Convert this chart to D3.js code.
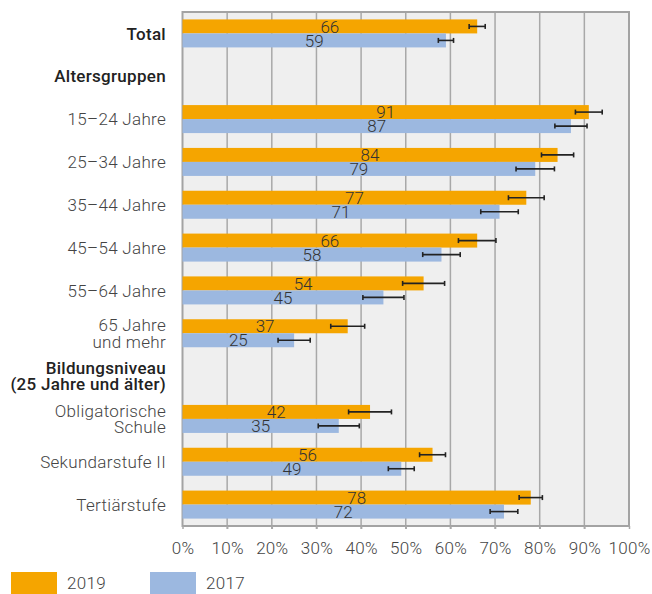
<!DOCTYPE html>
<html>
<head>
<meta charset="utf-8">
<script src="https://cdn.jsdelivr.net/npm/d3@7"></script>
<style>
  body { margin: 0; background: #fff; }
  text { font-family: Roboto, "Noto Sans", sans-serif; }
</style>
</head>
<body>
<svg id="chart" width="652" height="594"></svg>
<script>
"use strict";

// categories (empty values = group headers)
var categories = ["Total", "Altersgruppen", "15–24 Jahre", "25–34 Jahre", "35–44 Jahre", "45–54 Jahre",
  "55–64 Jahre", "65 Jahre|und mehr", "Bildungsniveau|(25 Jahre und älter)", "Obligatorische|Schule",
  "Sekundarstufe II", "Tertiärstufe"]
var headers = ["Total", "Altersgruppen", "Bildungsniveau|(25 Jahre und älter)"]

var values2019 = [66, null, 91, 84, 77, 66, 54, 37, null, 42, 56, 78]
var values2017 = [59, null, 87, 79, 71, 58, 45, 25, null, 35, 49, 72]
var err2019 = [1.8, null, 3.0, 3.6, 4.0, 4.2, 4.7, 3.8, null, 4.8, 2.9, 2.6]
var err2017 = [1.7, null, 3.6, 4.3, 4.2, 4.2, 4.6, 3.6, null, 4.6, 2.9, 3.1]

var xTicks = [0, 10, 20, 30, 40, 50, 60, 70, 80, 90, 100]
var seriesNames = ["2019", "2017"]
var colors = { "2019": "#f5a500", "2017": "#9cb8e0" }

var svg = d3.select("#chart")
var plotLeft = 182.5, plotRight = 629, plotTop = 12, plotBottom = 526
var barH = 14
var fontSize = "17px", spacing = "0.3px"

var x = d3.scaleLinear().domain([0, 100]).range([plotLeft, plotRight])
var y = d3.scaleBand().domain(categories).range([plotTop, plotBottom]).padding(0)

// fond du graphique
svg.append("rect")
  .attr("x", plotLeft).attr("y", plotTop)
  .attr("width", plotRight - plotLeft).attr("height", plotBottom - plotTop)
  .attr("fill", "#efefef")

// gridlines
svg.append("g")
  .selectAll("line")
  .data(xTicks.slice(1, -1))
  .enter()
  .append("line")
    .attr("x1", function(d) { return x(d) }).attr("x2", function(d) { return x(d) })
    .attr("y1", plotTop).attr("y2", plotBottom + 3)
    .attr("stroke", "#a8a8a8").attr("stroke-width", 1.5)

// border
svg.append("rect")
  .attr("x", plotLeft).attr("y", plotTop)
  .attr("width", plotRight - plotLeft).attr("height", plotBottom - plotTop)
  .attr("fill", "none").attr("stroke", "#a3a3a3").attr("stroke-width", 2)

// x axis
var xAxis = d3.axisBottom(x)
  .tickValues(xTicks)
  .tickSize(3)
  .tickFormat(function(d) { return d + "%" })
var ax = svg.append("g").attr("transform", "translate(0," + plotBottom + ")").call(xAxis)
ax.select(".domain").remove()
ax.selectAll(".tick line").attr("stroke", "#a8a8a8").attr("stroke-width", 1.5)
ax.selectAll(".tick text")
  .attr("y", 28)
  .attr("dy", 0)
  .attr("fill", "#444")
  .style("font-size", fontSize)
  .style("letter-spacing", spacing)
  .style("font-weight", 300)
  .style("font-family", "Roboto, sans-serif")

// bars
var rows = categories.map(function(c, i) {
  return { cat: c, v2019: values2019[i], v2017: values2017[i], e2019: err2019[i], e2017: err2017[i] }
}).filter(function(d) { return d.v2019 !== null })

seriesNames.forEach(function(s, si) {
  var g = svg.append("g")
  var sel = g.selectAll("g").data(rows).enter().append("g")
    .attr("transform", function(d) {
      var yy = y(d.cat) + y.bandwidth() / 2 - barH + si * barH
      return "translate(0," + yy + ")"
    })
  sel.append("rect")
    .attr("x", x(0))
    .attr("width", function(d) { return x(d["v" + s]) - x(0) })
    .attr("height", barH)
    .attr("fill", colors[s])
  sel.append("text")
    .attr("x", function(d) { return (x(0) + x(d["v" + s])) / 2 })
    .attr("y", barH / 2)
    .attr("dy", "0.36em")
    .attr("text-anchor", "middle")
    .attr("fill", "#333")
    .style("font-size", fontSize)
    .style("font-weight", 300)
    .text(function(d) { return d["v" + s] })
  // error bars
  var eb = sel.append("g").attr("stroke", "#222").attr("stroke-width", 1.6)
  eb.append("line")
    .attr("x1", function(d) { return x(d["v" + s] - d["e" + s]) })
    .attr("x2", function(d) { return x(d["v" + s] + d["e" + s]) })
    .attr("y1", barH / 2).attr("y2", barH / 2)
  eb.append("line")
    .attr("x1", function(d) { return x(d["v" + s] - d["e" + s]) })
    .attr("x2", function(d) { return x(d["v" + s] - d["e" + s]) })
    .attr("y1", barH / 2 - 2.5).attr("y2", barH / 2 + 2.5)
  eb.append("line")
    .attr("x1", function(d) { return x(d["v" + s] + d["e" + s]) })
    .attr("x2", function(d) { return x(d["v" + s] + d["e" + s]) })
    .attr("y1", barH / 2 - 2.5).attr("y2", barH / 2 + 2.5)
})

// category labels
var labels = svg.append("g")
  .selectAll("text")
  .data(categories)
  .enter()
  .append("text")
    .attr("text-anchor", "end")
    .attr("x", 166)
    .attr("fill", function(d) { return headers.indexOf(d) >= 0 ? "#222" : "#444" })
    .style("font-size", fontSize)
    .style("letter-spacing", spacing)
    .style("font-weight", function(d) { return headers.indexOf(d) >= 0 ? 500 : 300 })
    .attr("transform", function(d) { return "translate(0," + (y(d) + y.bandwidth() / 2) + ")" })

labels.each(function(d) {
  var lines = d.split("|")
  var t = d3.select(this)
  lines.forEach(function(line, i) {
    t.append("tspan")
      .attr("x", 166)
      .attr("y", (i - (lines.length - 1) / 2) * 16.5)
      .attr("dy", "0.36em")
      .text(line)
  })
})

// legend
var legend = svg.append("g")
  .selectAll("g")
  .data(seriesNames)
  .enter()
  .append("g")
    .attr("transform", function(d, i) { return "translate(" + (11 + i * 139) + ",572)" })

legend.append("rect")
  .attr("width", 46).attr("height", 22)
  .attr("fill", function(d) { return colors[d] })

legend.append("text")
  .attr("x", 56).attr("y", 11)
  .attr("dy", "0.36em")
  .attr("fill", "#444")
  .style("font-size", fontSize)
  .style("letter-spacing", spacing)
  .style("font-weight", 300)
  .text(function(d) { return d })
</script>
</body>
</html>
